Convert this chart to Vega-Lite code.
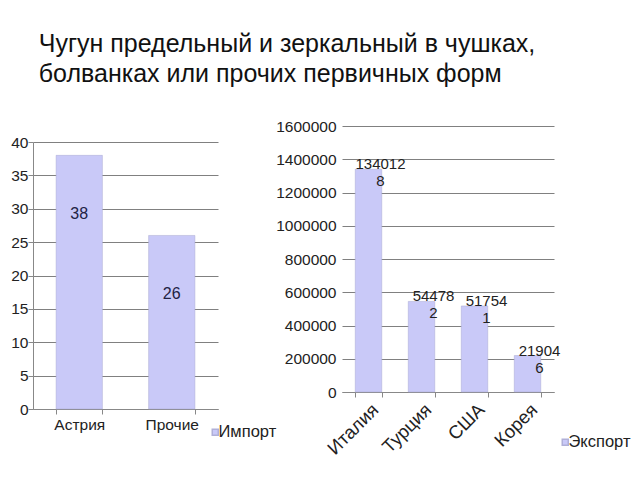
{
  "$schema": "https://vega.github.io/schema/vega-lite/v6.json",
  "padding": {"left": 10, "top": 32, "right": 0, "bottom": 0},
  "background": "white",
  "title": {
    "text": ["Чугун предельный и зеркальный в чушках,", "болванках или прочих первичных форм"],
    "anchor": "start", "fontSize": 25, "fontWeight": "normal", "font": "Liberation Sans",
    "lineHeight": 30, "color": "#111111", "dx": 28, "offset": 32
  },
  "spacing": -2,
  "resolve": {"scale": {"color": "independent"}, "legend": {"color": "independent"}},
  "config": {
    "font": "Liberation Sans",
    "view": {"stroke": null},
    "axis": {
      "labelFont": "Liberation Sans", "labelFontSize": 15.5, "labelColor": "#222222",
      "domainColor": "#888888", "tickColor": "#888888", "gridColor": "#808080",
      "title": null
    },
    "legend": {"labelFont": "Liberation Sans", "labelFontSize": 16.5, "labelColor": "#222222", "padding": 0}
  },
  "hconcat": [
    {
      "spacing": 8,
      "vconcat": [
        {
          "width": 185, "height": 1,
          "mark": {"type": "rule", "opacity": 0},
          "encoding": {}
        },
        {
          "width": 185, "height": 267,
          "data": {"values": [
            {"country": "Астрия", "value": 38, "series": "Импорт"},
            {"country": "Прочие", "value": 26, "series": "Импорт"}
          ]},
          "encoding": {
            "x": {"field": "country", "type": "nominal", "sort": null,
              "scale": {"paddingInner": 0.5, "paddingOuter": 0.25},
              "axis": {"labelAngle": 0, "tickBand": "extent", "tickSize": 5, "labelPadding": 3}},
            "y": {"field": "value", "type": "quantitative", "scale": {"domain": [0, 40]},
              "axis": {"values": [0, 5, 10, 15, 20, 25, 30, 35, 40], "tickSize": 5, "labelPadding": 0, "grid": true}}
          },
          "layer": [
            {
              "mark": {"type": "bar", "stroke": "#a8a8d0", "strokeWidth": 0.5},
              "encoding": {
                "color": {"field": "series", "type": "nominal", "scale": {"range": ["#c9c9f8"]},
                  "legend": {"orient": "none", "legendX": 174, "legendY": 298, "title": null, "symbolType": "square", "symbolSize": 36, "labelOffset": -5, "symbolFillColor": "#c9c9f8", "symbolStrokeColor": "#b0b0d8"}}
              }
            },
            {
              "mark": {"type": "text", "dy": 59, "fontSize": 16, "color": "#222244"},
              "encoding": {"text": {"field": "value", "type": "quantitative"}}
            }
          ]
        }
      ]
    },
    {
      "width": 212, "height": 266,
      "data": {"values": [
        {"country": "Италия", "value": 1340128, "label": "134012\n8", "series": "Экспорт"},
        {"country": "Турция", "value": 544782, "label": "54478\n2", "series": "Экспорт"},
        {"country": "США", "value": 517541, "label": "51754\n1", "series": "Экспорт"},
        {"country": "Корея", "value": 219046, "label": "21904\n6", "series": "Экспорт"}
      ]},
      "encoding": {
        "x": {"field": "country", "type": "nominal", "sort": null,
          "scale": {"paddingInner": 0.5, "paddingOuter": 0.25},
          "axis": {"labelAngle": -45, "tickBand": "extent", "tickSize": 5, "labelPadding": 3, "labelFontSize": 18.5}},
        "y": {"field": "value", "type": "quantitative", "scale": {"domain": [0, 1600000]},
          "axis": {"values": [0, 200000, 400000, 600000, 800000, 1000000, 1200000, 1400000, 1600000], "format": "d", "domain": false, "ticks": false, "labelPadding": 6, "grid": true}}
      },
      "layer": [
        {
          "mark": {"type": "bar", "stroke": "#a8a8d0", "strokeWidth": 0.5},
          "encoding": {
            "color": {"field": "series", "type": "nominal", "scale": {"range": ["#c9c9f8"]},
              "legend": {"orient": "none", "legendX": 215, "legendY": 308, "title": null, "symbolType": "square", "symbolSize": 36, "labelOffset": -5, "symbolFillColor": "#c9c9f8", "symbolStrokeColor": "#b0b0d8"}}
          }
        },
        {
          "mark": {"type": "text", "dx": 12, "dy": -12, "baseline": "top", "fontSize": 15, "lineBreak": "\n", "lineHeight": 17, "color": "#222222"},
          "encoding": {"text": {"field": "label", "type": "nominal"}}
        }
      ]
    }
  ]
}
